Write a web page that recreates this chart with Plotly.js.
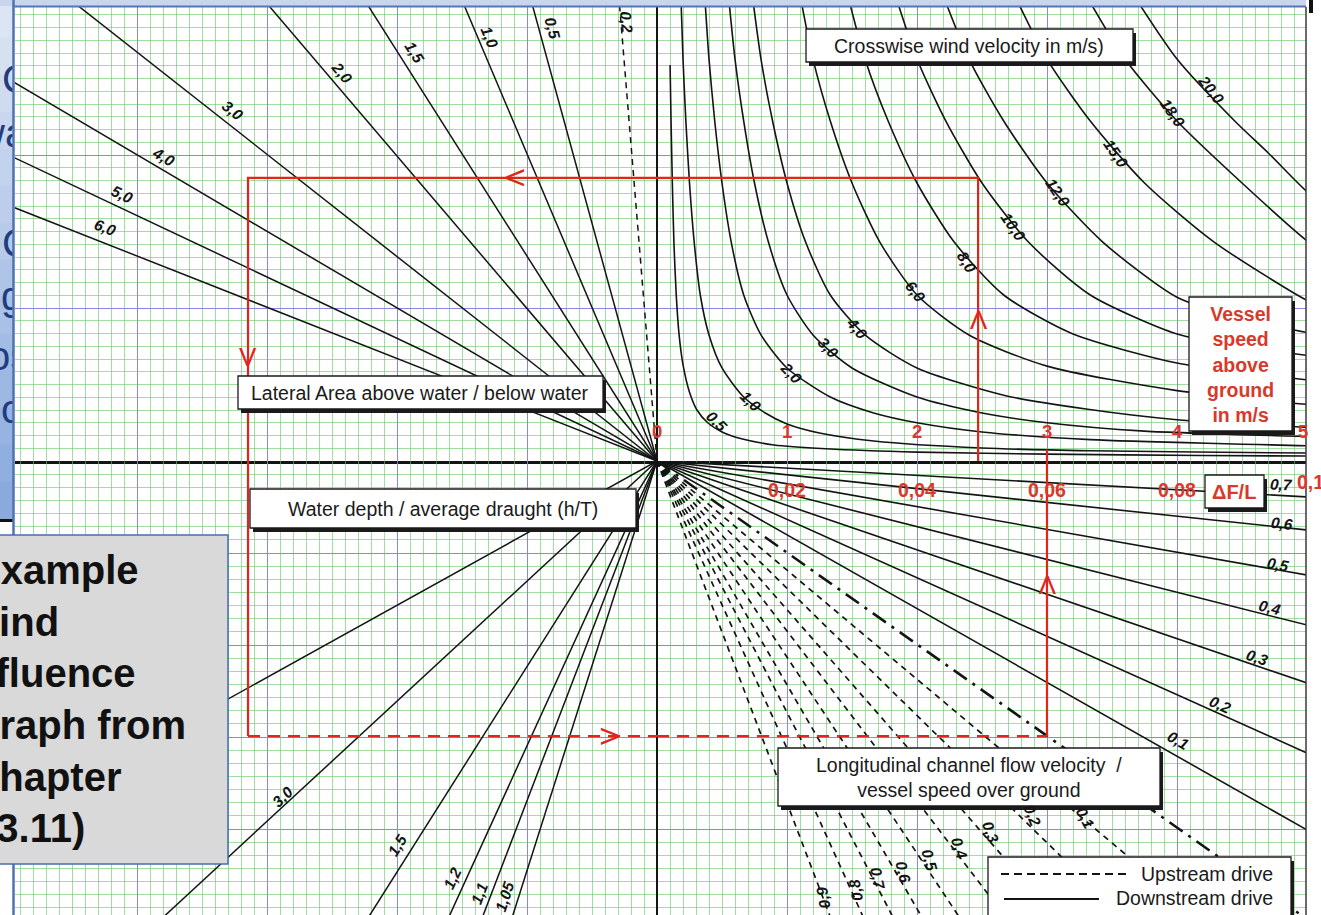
<!DOCTYPE html>
<html>
<head>
<meta charset="utf-8">
<title>Wind influence nomogram</title>
<script src="https://cdn.plot.ly/plotly-3.0.1.min.js"></script>
<style>
  html, body { margin: 0; padding: 0; background: #ffffff; }
  #chart { width: 1321px; height: 915px; }
</style>
</head>
<body>
<div id="chart"></div>
<script>
// ---------------- chart values ----------------

// Upper right: crosswind velocity curves, vessel speed (m/s) vs. wind force scale
const crosswindLabels = ['0,5', '1,0', '2,0', '3,0', '4,0', '6,0', '8,0', '10,0', '12,0', '15,0', '18,0', '20,0'];
const crosswindV = [
  [0.1006, 0.108, 0.118, 0.13, 0.148, 0.17, 0.2, 0.25, 0.31, 0.39, 0.5, 0.65, 0.9, 1.3, 2.0, 3.0, 4.2, 5.1],
  [0.182, 0.2, 0.222, 0.25, 0.286, 0.333, 0.4, 0.5, 0.667, 0.833, 1.0, 1.25, 1.667, 2.5, 3.333, 5.0, 5.1],
  [0.364, 0.4, 0.444, 0.5, 0.571, 0.667, 0.8, 1.0, 1.333, 1.667, 2.0, 2.5, 3.333, 5.0, 5.1],
  [0.545, 0.6, 0.667, 0.75, 0.857, 1.0, 1.2, 1.5, 2.0, 2.5, 3.0, 3.75, 5.0, 5.1],
  [0.727, 0.8, 0.889, 1.0, 1.143, 1.333, 1.6, 2.0, 2.667, 3.3, 4.0, 5.0, 5.1],
  [1.091, 1.2, 1.333, 1.5, 1.714, 2.0, 2.4, 3.0, 4.0, 5.0, 5.1],
  [1.455, 1.6, 1.778, 2.0, 2.286, 2.667, 3.2, 4.0, 4.5, 5.0, 5.1],
  [1.818, 2.0, 2.222, 2.5, 2.857, 3.333, 4.0, 4.5, 5.0, 5.1],
  [2.182, 2.4, 2.667, 3.0, 3.429, 4.0, 4.5, 5.0, 5.1],
  [2.727, 3.0, 3.333, 3.75, 4.286, 5.0, 5.1],
  [3.273, 3.6, 4.0, 4.5, 5.0, 5.1],
  [3.636, 4.0, 4.444, 4.706, 5.0, 5.1]
];
const crosswindF = [
  [2.588, 2.222, 1.817, 1.431, 1.085, 0.824, 0.63, 0.45, 0.33, 0.25, 0.19, 0.145, 0.105, 0.08, 0.058, 0.045, 0.036, 0.032],
  [3.085, 2.627, 2.222, 1.817, 1.431, 1.085, 0.824, 0.608, 0.418, 0.314, 0.242, 0.183, 0.131, 0.085, 0.067, 0.052, 0.051],
  [3.085, 2.627, 2.222, 1.817, 1.431, 1.085, 0.824, 0.608, 0.418, 0.314, 0.25, 0.19, 0.14, 0.10, 0.099],
  [3.085, 2.627, 2.222, 1.817, 1.431, 1.085, 0.824, 0.608, 0.418, 0.314, 0.25, 0.195, 0.16, 0.158],
  [3.085, 2.627, 2.222, 1.817, 1.431, 1.085, 0.824, 0.608, 0.43, 0.34, 0.27, 0.22, 0.215],
  [3.085, 2.627, 2.222, 1.817, 1.431, 1.085, 0.824, 0.62, 0.46, 0.37, 0.365],
  [3.085, 2.627, 2.222, 1.817, 1.431, 1.085, 0.83, 0.64, 0.58, 0.53, 0.52],
  [3.085, 2.627, 2.222, 1.817, 1.431, 1.085, 0.83, 0.75, 0.69, 0.68],
  [3.085, 2.627, 2.222, 1.817, 1.431, 1.07, 0.93, 0.84, 0.83],
  [3.085, 2.627, 2.222, 1.817, 1.431, 1.05, 1.02],
  [3.085, 2.627, 2.222, 1.817, 1.44, 1.39],
  [3.085, 2.627, 2.222, 2.01, 1.76, 1.70]
];

// Upper left: lateral area above / below water, rays from the origin
const areaRatioLabels = ['0,2', '0,5', '1,0', '1,5', '2,0', '3,0', '4,0', '5,0', '6,0'];
const areaRatioEndX = [-0.29, -0.965, -1.494, -2.24, -3.01, -4.49, -5.0, -5.0, -5.0];
const areaRatioEndY = [3.0, 3.0, 3.0, 3.0, 3.0, 3.0, 2.502, 2.005, 1.675];

// Lower left: water depth / average draught, rays from the origin
const depthRatioLabels = ['', '3,0', '1,5', '1,2', '1,1', '1,05'];
const depthRatioEndX = [-5.0, -3.83, -2.238, -1.615, -1.354, -1.123];
const depthRatioEndY = [3.92, 5.0, 5.0, 5.0, 5.0, 5.0];

// Lower right: flow velocity / speed over ground against dF/L
const downstreamLabels = ['0,7', '0,6', '0,5', '0,4', '0,3', '0,2', '0,1'];
const downstreamEndDFL = [0.1, 0.1, 0.1, 0.1, 0.1, 0.1, 0.1];
const downstreamEndY = [0.391, 0.75, 1.239, 1.783, 2.413, 3.174, 4.011];
const upstreamLabels = ['0,1', '0,2', '0,3', '0,4', '0,5', '0,6', '0,7', '0,8', '0,9'];
const upstreamEndDFL = [0.0843, 0.0723, 0.0619, 0.0541, 0.0469, 0.0411, 0.0366, 0.0320, 0.0269];
const upstreamEndY = [5.0, 5.0, 5.0, 5.0, 5.0, 5.0, 5.0, 5.0, 5.0];
const stillWaterEnd = [0.1, 4.98];

// Axis scales printed in red
const speedTicks = [0, 1, 2, 3, 4, 5];
const speedTickText = ['0', '1', '2', '3', '4', '5'];
const dflTicks = [0.02, 0.04, 0.06, 0.08, 0.1];
const dflTickText = ['0,02', '0,04', '0,06', '0,08', '0,1'];

// Worked example through the four quadrants
const exampleSpeed = 2.47;
const exampleForce = 1.85;
const exampleLateral = -3.146;
const exampleDepth = 2.99;
const exampleDFL = 0.06;

// ---------------- geometry & styles ----------------
const W = 1321, H = 915;
const fx = p => p / W;
const fy = p => 1 - p / H;
const frame = { left: 15, right: 1306, top: 7, bottom: 915, ox: 657, oy: 461 };
const unitX = 130, unitUp = 153, unitDown = 92, dflPerUnit = 0.02;
const xRange = [(frame.left - frame.ox) / unitX, (frame.right - frame.ox) / unitX];
const yUpRange = [0, (frame.oy - frame.top) / unitUp];
const yDownRange = [(frame.bottom - frame.oy) / unitDown, 0];
const x3Range = xRange.map(v => v * dflPerUnit);

const FONT = 'Liberation Sans, Arial, Helvetica, sans-serif';
const INK = '#141414';
const RED_LINE = '#e3241b';
const RED_TEXT = '#d8392b';
const GRID_MAJOR = 'rgba(130,130,230,0.95)';
const GRID_MINOR = 'rgba(105,200,105,0.62)';

// ---------------- traces ----------------
const traces = [];
const line = (x, y, xa, ya, style) => traces.push(Object.assign({
  type: 'scatter', mode: 'lines', x, y, xaxis: xa, yaxis: ya,
  hoverinfo: 'skip', showlegend: false
}, style));

crosswindV.forEach((vs, i) => line(vs, crosswindF[i], 'x', 'y',
  { line: { color: INK, width: 1.6, shape: 'spline', smoothing: 0.7 } }));

areaRatioEndX.forEach((ex, i) => line([0, ex], [0, areaRatioEndY[i]], 'x', 'y',
  { line: { color: INK, width: 1.5, dash: i === 0 ? '6px,5px' : 'solid' } }));

depthRatioEndX.forEach((ex, i) => line([0, ex], [0, depthRatioEndY[i]], 'x2', 'y2',
  { line: { color: INK, width: 1.5 } }));

downstreamEndDFL.forEach((ex, i) => line([0, ex], [0, downstreamEndY[i]], 'x3', 'y2',
  { line: { color: INK, width: 1.6 } }));

upstreamEndDFL.forEach((ex, i) => line([0, ex], [0, upstreamEndY[i]], 'x3', 'y2',
  { line: { color: INK, width: 1.7, dash: '6px,5px' } }));

line([0, stillWaterEnd[0]], [0, stillWaterEnd[1]], 'x3', 'y2',
  { line: { color: INK, width: 2.6, dash: '16px,7px,3px,7px' } });

// worked example path
const redSolid = { line: { color: RED_LINE, width: 2.2 } };
const redDash = { line: { color: RED_LINE, width: 2.4, dash: '12px,8px' } };
line([exampleSpeed, exampleSpeed, exampleLateral, exampleLateral],
     [0, exampleForce, exampleForce, 0], 'x', 'y', redSolid);
line([exampleLateral, exampleLateral], [0, exampleDepth], 'x2', 'y2', redSolid);
line([exampleLateral, 0], [exampleDepth, exampleDepth], 'x2', 'y2', redDash);
line([0, exampleDFL], [exampleDepth, exampleDepth], 'x3', 'y2', redDash);
line([exampleDFL, exampleDFL], [exampleDepth, 0], 'x3', 'y2', redSolid);
// the dF/L reading line runs on just past the horizontal axis
line([exampleDFL / dflPerUnit, exampleDFL / dflPerUnit], [0, 0.075], 'x', 'y', redSolid);

// slide text showing at the far left edge, clipped by its own strip
const slideText = ['Cro', 'wa', 'Co', 'g', 'os', 'o'];
const slideTextAt = [[2, 83], [-24, 137], [2, 247], [1, 300], [-12, 360], [1, 413]];
traces.push({
  type: 'scatter', mode: 'text', xaxis: 'x4', yaxis: 'y4',
  x: slideTextAt.map(p => p[0]), y: slideTextAt.map(p => p[1]),
  text: slideText, textposition: 'middle right', cliponaxis: true,
  textfont: { family: FONT, size: 40, color: '#1f3d80' },
  hoverinfo: 'skip', showlegend: false
});

// ---------------- axes ----------------
const bare = { showticklabels: false, ticks: '', fixedrange: true, showline: false, zeroline: false };
const xDom = [fx(frame.left), fx(frame.right)];
const layout = {
  width: W, height: H,
  margin: { l: 0, r: 0, t: 0, b: 0, pad: 0 },
  paper_bgcolor: '#ffffff', plot_bgcolor: '#ffffff',
  showlegend: false, hovermode: false,
  xaxis: Object.assign({}, bare, {
    domain: xDom, anchor: 'y', range: xRange, tick0: 0, dtick: 1,
    showgrid: true, gridcolor: GRID_MAJOR, gridwidth: 1,
    minor: { tick0: 0, dtick: 0.1, showgrid: true, gridcolor: GRID_MINOR, gridwidth: 1 },
    zeroline: true, zerolinecolor: INK, zerolinewidth: 2,
    showline: true, side: 'bottom', linecolor: INK, linewidth: 2.6
  }),
  yaxis: Object.assign({}, bare, {
    domain: [fy(frame.oy), fy(frame.top)], anchor: 'x', range: yUpRange, tick0: 0, dtick: 1,
    showgrid: true, gridcolor: GRID_MAJOR, gridwidth: 1,
    minor: { tick0: 0, dtick: 1 / 12, showgrid: true, gridcolor: GRID_MINOR, gridwidth: 1 }
  }),
  xaxis2: Object.assign({}, bare, {
    domain: xDom, anchor: 'y2', range: xRange, tick0: 0, dtick: 1,
    showgrid: true, gridcolor: GRID_MAJOR, gridwidth: 1,
    minor: { tick0: 0, dtick: 0.1, showgrid: true, gridcolor: GRID_MINOR, gridwidth: 1 },
    zeroline: true, zerolinecolor: INK, zerolinewidth: 2
  }),
  yaxis2: Object.assign({}, bare, {
    domain: [0, fy(frame.oy)], anchor: 'x2', range: yDownRange, tick0: 0, dtick: 1,
    showgrid: true, gridcolor: GRID_MAJOR, gridwidth: 1,
    minor: { tick0: 0, dtick: 1 / 7, showgrid: true, gridcolor: GRID_MINOR, gridwidth: 1 }
  }),
  xaxis3: Object.assign({}, bare, {
    domain: xDom, anchor: 'y2', overlaying: 'x2', range: x3Range, showgrid: false, visible: false
  }),
  xaxis4: Object.assign({}, bare, { domain: [0, fx(13)], anchor: 'y4', range: [0, 13], showgrid: false, visible: false }),
  yaxis4: Object.assign({}, bare, { domain: [0, 1], anchor: 'x4', range: [H, 0], showgrid: false, visible: false }),
  shapes: [],
  annotations: []
};

// ---------------- decorations ----------------
const S = layout.shapes, A = layout.annotations;
const rectPx = (x0, y0, x1, y1, fill, lineColor, lineWidth, layer) => S.push({
  type: 'rect', xref: 'paper', yref: 'paper', layer: layer || 'above',
  x0: fx(x0), x1: fx(x1), y0: fy(y1), y1: fy(y0),
  fillcolor: fill, line: { color: lineColor || fill, width: lineWidth === undefined ? 0 : lineWidth }
});
const linePx = (x0, y0, x1, y1, color, width, dash) => S.push({
  type: 'line', xref: 'paper', yref: 'paper', layer: 'above',
  x0: fx(x0), x1: fx(x1), y0: fy(y0), y1: fy(y1),
  line: { color, width, dash: dash || 'solid' }
});

// blue slide background at the left edge (vertical shading)
const bandTop = [219, 229, 243], bandBottom = [138, 170, 222], bands = 14;
for (let i = 0; i < bands; i++) {
  const t = i / (bands - 1);
  const c = bandTop.map((v, k) => Math.round(v + (bandBottom[k] - v) * t));
  rectPx(0, 519 * i / bands, 13, 519 * (i + 1) / bands + 0.5, `rgb(${c.join(',')})`, null, 0, 'below');
}
linePx(0, 520.5, 13, 520.5, '#111111', 3);

// frame
rectPx(0, 0, 1306, 6, '#c8d5ed', null, 0);
linePx(13, 6.5, 1306, 6.5, '#5576b3', 2);
linePx(13.5, 0, 13.5, 915, '#4f72b2', 2.5);
linePx(1306, 7, 1306, 915, '#3a3a3a', 1.5);
rectPx(1309, 0, 1313, 13, '#111111', null, 0);

// framed captions with drop shadow
const boxes = [
  [806, 29, 1133, 62], [1189, 297, 1292, 431], [238, 376, 603, 409], [250, 489, 636, 528],
  [778, 748, 1160, 806], [1205, 475, 1264, 508], [988, 857, 1291, 930]
];
boxes.forEach(b => {
  rectPx(b[0] + 3, b[1] + 4, b[2] + 3, b[3] + 4, '#1a1a1a', null, 0);
  rectPx(b[0], b[1], b[2], b[3], '#ffffff', '#1a1a1a', 1.3);
});

// legend samples
linePx(1001, 874, 1131, 874, INK, 2, '8px,5px');
linePx(1004, 899, 1099, 899, INK, 2);

// grey note box at the lower left
rectPx(-2, 535, 228, 864, '#d9d9d9', '#4a6eaa', 1.5);

const textPx = (text, x, y, font, extra) => A.push(Object.assign({
  text, xref: 'paper', yref: 'paper', x: fx(x), y: fy(y), showarrow: false,
  xanchor: 'center', yanchor: 'middle', font: Object.assign({ family: FONT, size: 19.5, color: '#1a1a1a' }, font)
}, extra || {}));

textPx('Crosswise wind velocity in m/s)', 969, 46, {});
textPx('Lateral Area above water / below water', 420, 393, {});
textPx('Water depth / average draught (h/T)', 443, 509, {});
textPx('Longitudinal channel flow velocity  /<br>vessel speed over ground', 969, 777, {});
textPx('Vessel<br>speed<br>above<br>ground<br>in m/s', 1240, 364, { size: 19.5, color: RED_TEXT, weight: 'bold' });
textPx('ΔF/L', 1234, 492, { size: 20, color: RED_TEXT, weight: 'bold' });
textPx('Upstream drive', 1275, 874, {}, { xanchor: 'right' });
textPx('Downstream drive', 1275, 898, {}, { xanchor: 'right' });

const noteLines = ['Example', 'wind', 'influence', 'graph from', 'chapter', '(3.11)'];
const noteLineAt = [[-28, 570], [-35, 622], [-42, 673], [-27, 725], [-25, 777], [-19, 828]];
noteLines.forEach((t, i) => textPx(t, noteLineAt[i][0], noteLineAt[i][1],
  { size: 40, color: '#111111', weight: 'bold' }, { xanchor: 'left' }));

// curve labels
const curveFont = { family: FONT, size: 15.5, color: INK, weight: 'bold', style: 'italic' };
const dataLabel = (text, x, y, xref, yref, angle) => A.push({
  text, x, y, xref, yref, textangle: angle, showarrow: false,
  xanchor: 'center', yanchor: 'middle', font: curveFont
});

const crosswindLabelAt = [[0.462, 0.261, 45], [0.723, 0.392, 45], [1.038, 0.575, 46], [1.315, 0.739, 48],
  [1.538, 0.863, 50], [1.985, 1.105, 52], [2.385, 1.30, 58], [2.746, 1.529, 56], [3.085, 1.758, 56],
  [3.531, 2.013, 56], [3.962, 2.275, 55], [4.262, 2.425, 52]];
crosswindLabels.forEach((t, i) => dataLabel(t, crosswindLabelAt[i][0], crosswindLabelAt[i][1], 'x', 'y', crosswindLabelAt[i][2]));

const areaLabelAt = [[-0.231, 2.869, 85], [-0.80, 2.83, 75], [-1.285, 2.771, 67], [-1.862, 2.673, 58],
  [-2.423, 2.542, 50], [-3.262, 2.294, 38], [-3.80, 1.987, 30], [-4.115, 1.739, 25], [-4.246, 1.523, 21]];
areaRatioLabels.forEach((t, i) => dataLabel(t, areaLabelAt[i][0], areaLabelAt[i][1], 'x', 'y', areaLabelAt[i][2]));

const depthLabelAt = [null, [-2.877, 3.652, -43], [-2.0, 4.174, -58], [-1.577, 4.533, -65],
  [-1.369, 4.696, -69], [-1.169, 4.739, -72]];
depthRatioLabels.forEach((t, i) => { if (t) dataLabel(t, depthLabelAt[i][0], depthLabelAt[i][1], 'x2', 'y2', depthLabelAt[i][2]); });

const downLabelAt = [[0.0960, 0.25, 3], [0.0962, 0.674, 6], [0.0955, 1.12, 10], [0.0943, 1.587, 14],
  [0.0923, 2.141, 19], [0.0866, 2.652, 24], [0.0802, 3.043, 30]];
downstreamLabels.forEach((t, i) => dataLabel(t, downLabelAt[i][0], downLabelAt[i][1], 'x3', 'y2', downLabelAt[i][2]));

const upLabelAt = [[0.0658, 3.88, 62], [0.0578, 3.848, 68], [0.0514, 4.033, 70], [0.0466, 4.207, 72],
  [0.0420, 4.337, 74], [0.0378, 4.467, 76], [0.0340, 4.533, 78], [0.0305, 4.663, -100], [0.0255, 4.75, -100]];
upstreamLabels.forEach((t, i) => dataLabel(t, upLabelAt[i][0], upLabelAt[i][1], 'x3', 'y2', upLabelAt[i][2]));

// red scale labels (the last one of each sits on the frame edge, so it is nudged in and shifted back)
speedTicks.forEach((v, i) => {
  const last = i === speedTicks.length - 1;
  A.push({
    text: speedTickText[i], x: last ? v - 0.03 : v, y: 0.19, xref: 'x', yref: 'y', showarrow: false,
    xanchor: 'center', yanchor: 'middle',
    font: { family: FONT, size: 18.5, color: RED_TEXT, weight: 'bold' }
  });
});
dflTicks.forEach((v, i) => {
  const last = i === dflTicks.length - 1;
  A.push({
    text: dflTickText[i], x: last ? v - 0.0005 : v, y: last ? 0.23 : 0.315, xref: 'x3', yref: 'y2', showarrow: false,
    xanchor: 'center', yanchor: 'middle', xshift: last ? 7 : 0,
    font: { family: FONT, size: 19.5, color: RED_TEXT, weight: 'bold' }
  });
});

// open arrow heads along the example path
const chevron = (x, y, xref, yref, angle) => A.push({
  text: 'V', x, y, xref, yref, textangle: angle, showarrow: false,
  xanchor: 'center', yanchor: 'middle', font: { family: FONT, size: 26, color: RED_LINE }
});
chevron(exampleSpeed, 0.92, 'x', 'y', 180);
chevron(-1.092, exampleForce, 'x', 'y', 90);
chevron(exampleLateral, 0.68, 'x', 'y', 0);
chevron(-0.362, exampleDepth, 'x2', 'y2', -90);
chevron(exampleDFL, 1.35, 'x3', 'y2', 180);

Plotly.newPlot('chart', traces, layout, { staticPlot: true, displayModeBar: false });
</script>
</body>
</html>
